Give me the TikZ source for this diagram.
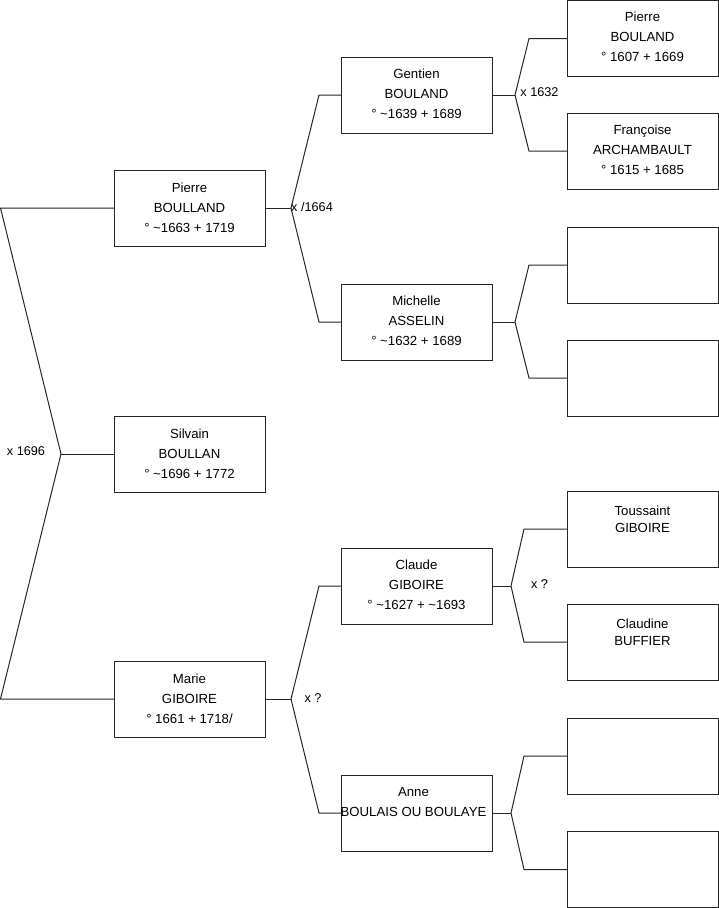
\documentclass[tikz,border=0pt]{standalone}
\usepackage{fontspec}
\setmainfont{Liberation Sans}
\begin{document}
\begin{tikzpicture}[x=1pt,y=-1pt,
 pbox/.style={draw=black!85, line width=1pt, minimum width=151pt, minimum height=76pt, inner sep=0pt, outer sep=0pt},
 ptxt/.style={anchor=north, inner sep=0pt, align=center, font=\fontsize{13.2}{20}\selectfont},
 ptxtb/.style={ptxt, font=\fontsize{13.2}{17}\selectfont},
 lbl/.style={inner sep=0pt, font=\fontsize{12.7}{15}\selectfont},
 conn/.style={draw=black!85, line width=1pt}]
\useasboundingbox (0,0) rectangle (719,908);
% boxes
\node[pbox] (pierre) at (189.5,208) {};
\node[pbox] (silvain) at (189.5,454) {};
\node[pbox] (marie) at (189.5,699) {};
\node[pbox] (gentien) at (416.5,95) {};
\node[pbox] (michelle) at (416.5,322) {};
\node[pbox] (claude) at (416.5,586) {};
\node[pbox] (anne) at (416.5,813) {};
\node[pbox] (p1) at (642.5,38.5) {};
\node[pbox] (p2) at (642.5,151) {};
\node[pbox] (p3) at (642.5,265) {};
\node[pbox] (p4) at (642.5,378) {};
\node[pbox] (p5) at (642.5,529) {};
\node[pbox] (p6) at (642.5,642) {};
\node[pbox] (p7) at (642.5,756) {};
\node[pbox] (p8) at (642.5,869.5) {};
% texts
\node[ptxt] (tpierre) at ([yshift=-12.5pt]pierre.north) {Pierre\\BOULLAND\\° \textasciitilde1663 + 1719};
\node[ptxt] (tsilvain) at ([yshift=-12.5pt]silvain.north) {Silvain\\BOULLAN\\° \textasciitilde1696 + 1772};
\node[ptxt] (tmarie) at ([yshift=-12.5pt]marie.north) {Marie\\GIBOIRE\\° 1661 + 1718/};
\node[ptxt] (tgentien) at ([yshift=-12pt]gentien.north) {Gentien\\BOULAND\\° \textasciitilde1639 + 1689};
\node[ptxt] (tmichelle) at ([yshift=-12pt]michelle.north) {Michelle\\ASSELIN\\° \textasciitilde1632 + 1689};
\node[ptxt] (tclaude) at ([yshift=-12pt]claude.north) {Claude\\GIBOIRE\\° \textasciitilde1627 + \textasciitilde1693};
\node[ptxt] (tanne) at ([xshift=-3pt,yshift=-12pt]anne.north) {Anne\\BOULAIS OU BOULAYE};
\node[ptxt] (tp1) at ([yshift=-11.5pt]p1.north) {Pierre\\BOULAND\\° 1607 + 1669};
\node[ptxt] (tp2) at ([yshift=-12pt]p2.north) {Françoise\\ARCHAMBAULT\\° 1615 + 1685};
\node[ptxtb] (tp5) at ([yshift=-14.5pt]p5.north) {Toussaint\\GIBOIRE};
\node[ptxtb] (tp6) at ([yshift=-14.5pt]p6.north) {Claudine\\BUFFIER};
% connectors
\coordinate (lv) at (61,454);
\draw[conn] (pierre.west) -- (0.5,208) -- (lv) -- (0.5,699) -- (marie.west);
\draw[conn] (lv) -- (silvain.west);
\node[lbl] (l1696) at (26,451) {x 1696};

\coordinate (pv) at (291,208);
\draw[conn] (pierre.east) -- (pv);
\draw[conn] (pv) -- ([xshift=-22pt]gentien.west) -- (gentien.west);
\draw[conn] (pv) -- ([xshift=-22pt]michelle.west) -- (michelle.west);
\node[lbl] (l1664) at (312,207) {x /1664};

\coordinate (mv) at (291,699);
\draw[conn] (marie.east) -- (mv);
\draw[conn] (mv) -- ([xshift=-22pt]claude.west) -- (claude.west);
\draw[conn] (mv) -- ([xshift=-22pt]anne.west) -- (anne.west);
\node[lbl] (lmq) at (313,698) {x ?};

\coordinate (gv) at (515,95);
\draw[conn] (gentien.east) -- (gv);
\draw[conn] (gv) -- ([xshift=-38pt]p1.west) -- (p1.west);
\draw[conn] (gv) -- ([xshift=-38pt]p2.west) -- (p2.west);
\node[lbl] (l1632) at (539.5,92) {x 1632};

\coordinate (miv) at (515,322);
\draw[conn] (michelle.east) -- (miv);
\draw[conn] (miv) -- ([xshift=-38pt]p3.west) -- (p3.west);
\draw[conn] (miv) -- ([xshift=-38pt]p4.west) -- (p4.west);

\coordinate (cv) at (511,586);
\draw[conn] (claude.east) -- (cv);
\draw[conn] (cv) -- ([xshift=-43pt]p5.west) -- (p5.west);
\draw[conn] (cv) -- ([xshift=-43pt]p6.west) -- (p6.west);
\node[lbl] (lcq) at (539.5,584) {x ?};

\coordinate (av) at (511,813);
\draw[conn] (anne.east) -- (av);
\draw[conn] (av) -- ([xshift=-43pt]p7.west) -- (p7.west);
\draw[conn] (av) -- ([xshift=-43pt]p8.west) -- (p8.west);
\end{tikzpicture}
\end{document}
